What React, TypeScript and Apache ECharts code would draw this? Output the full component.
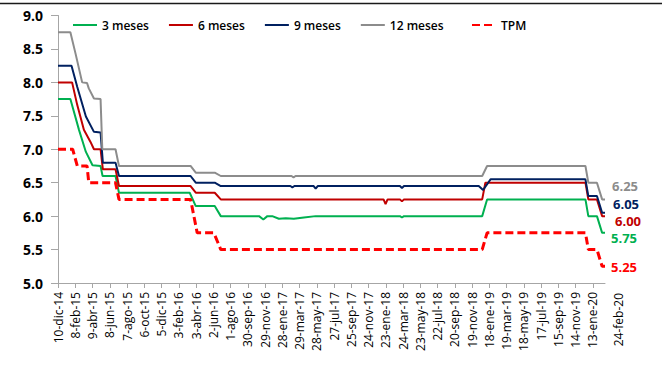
import React, { useEffect, useRef } from 'react';
import * as echarts from 'echarts';

// Axis range and tick dates (every 60 days from the first observation)
const START_DATE = '2014-12-10';
const END_DATE = '2020-02-24';
const TICK_DATES = [
  '2014-12-10', '2015-02-08', '2015-04-09', '2015-06-08', '2015-08-07', '2015-10-06',
  '2015-12-05', '2016-02-03', '2016-04-03', '2016-06-02', '2016-08-01', '2016-09-30',
  '2016-11-29', '2017-01-28', '2017-03-29', '2017-05-28', '2017-07-27', '2017-09-25',
  '2017-11-24', '2018-01-23', '2018-03-24', '2018-05-23', '2018-07-22', '2018-09-20',
  '2018-11-19', '2019-01-18', '2019-03-19', '2019-05-18', '2019-07-17', '2019-09-15',
  '2019-11-14', '2020-01-13',
];
const MONTHS = ['ene', 'feb', 'mar', 'abr', 'may', 'jun', 'jul', 'ago', 'sep', 'oct', 'nov', 'dic'];

const SERIES_NAMES = ['3 meses', '6 meses', '9 meses', '12 meses', 'TPM'];

// Rates (%) at the dates where each curve changes
const RATE_3M: [string, number][] = [
  ['2014-12-10', 7.75], ['2015-01-22', 7.75], ['2015-02-21', 7.29], ['2015-03-17', 6.96],
  ['2015-04-09', 6.76], ['2015-05-07', 6.75], ['2015-05-14', 6.6], ['2015-06-28', 6.6],
  ['2015-07-10', 6.35], ['2016-03-12', 6.35], ['2016-04-02', 6.15], ['2016-06-07', 6.15],
  ['2016-06-28', 6.0], ['2016-11-08', 6.0], ['2016-11-23', 5.95], ['2016-12-07', 6.0],
  ['2016-12-24', 6.0], ['2017-01-16', 5.96], ['2017-02-09', 5.97], ['2017-03-09', 5.96],
  ['2017-04-13', 5.98], ['2017-05-24', 6.0], ['2018-03-13', 6.0], ['2018-03-20', 5.98],
  ['2018-03-27', 6.0], ['2018-12-24', 6.0], ['2019-01-10', 6.25], ['2019-12-18', 6.25],
  ['2019-12-28', 6.0], ['2020-01-27', 6.0], ['2020-02-14', 5.75], ['2020-02-24', 5.75],
];
const RATE_6M: [string, number][] = [
  ['2014-12-10', 8.0], ['2015-01-28', 8.0], ['2015-02-15', 7.66], ['2015-03-10', 7.29],
  ['2015-04-02', 7.11], ['2015-04-14', 7.0], ['2015-05-07', 7.0], ['2015-05-15', 6.7],
  ['2015-06-28', 6.7], ['2015-07-10', 6.45], ['2016-03-15', 6.45], ['2016-04-02', 6.35],
  ['2016-06-07', 6.35], ['2016-06-28', 6.25], ['2018-01-15', 6.25], ['2018-01-22', 6.18],
  ['2018-01-29', 6.25], ['2018-03-13', 6.25], ['2018-03-20', 6.22], ['2018-03-27', 6.25],
  ['2018-12-24', 6.25], ['2019-01-04', 6.5], ['2019-12-18', 6.5], ['2019-12-28', 6.25],
  ['2020-01-27', 6.25], ['2020-02-14', 6.0], ['2020-02-24', 6.0],
];
const RATE_9M: [string, number][] = [
  ['2014-12-10', 8.25], ['2015-01-26', 8.25], ['2015-02-15', 7.93], ['2015-03-17', 7.49],
  ['2015-04-14', 7.26], ['2015-05-07', 7.25], ['2015-05-15', 6.8], ['2015-06-28', 6.8],
  ['2015-07-10', 6.6], ['2016-03-15', 6.6], ['2016-04-02', 6.5], ['2016-06-07', 6.5],
  ['2016-06-28', 6.45], ['2017-02-25', 6.45], ['2017-03-04', 6.43], ['2017-03-11', 6.45],
  ['2017-05-17', 6.45], ['2017-05-24', 6.41], ['2017-05-31', 6.45], ['2018-03-13', 6.45],
  ['2018-03-20', 6.42], ['2018-03-27', 6.45], ['2018-12-12', 6.45], ['2018-12-27', 6.39],
  ['2019-01-22', 6.55], ['2019-12-18', 6.55], ['2019-12-28', 6.3], ['2020-01-27', 6.3],
  ['2020-02-14', 6.05], ['2020-02-24', 6.05],
];
const RATE_12M: [string, number][] = [
  ['2014-12-10', 8.75], ['2015-01-22', 8.75], ['2015-02-09', 8.43], ['2015-03-04', 8.0],
  ['2015-03-21', 7.99], ['2015-03-27', 7.91], ['2015-04-14', 7.76], ['2015-05-07', 7.75],
  ['2015-05-13', 7.0], ['2015-06-28', 7.0], ['2015-07-10', 6.75], ['2016-03-15', 6.75],
  ['2016-04-02', 6.65], ['2016-06-07', 6.65], ['2016-06-28', 6.6], ['2017-03-01', 6.6],
  ['2017-03-08', 6.58], ['2017-03-15', 6.6], ['2018-12-24', 6.6], ['2019-01-10', 6.75],
  ['2019-12-18', 6.75], ['2019-12-28', 6.5], ['2020-01-27', 6.5], ['2020-02-14', 6.25],
  ['2020-02-24', 6.25],
];
const RATE_TPM: [string, number][] = [
  ['2014-12-10', 7.0], ['2015-01-30', 7.0], ['2015-02-15', 6.75], ['2015-03-21', 6.75],
  ['2015-03-27', 6.5], ['2015-06-28', 6.5], ['2015-07-10', 6.25], ['2016-03-15', 6.25],
  ['2016-04-07', 5.75], ['2016-06-04', 5.75], ['2016-06-28', 5.5], ['2018-12-24', 5.5],
  ['2019-01-10', 5.75], ['2019-12-18', 5.75], ['2019-12-28', 5.5], ['2020-01-27', 5.5],
  ['2020-02-14', 5.25], ['2020-02-24', 5.25],
];

const FONT = "'Open Sans', 'DejaVu Sans', sans-serif";
const DAY_MS = 86400000;

const utc = (iso: string) => {
  const [y, m, d] = iso.split('-').map(Number);
  return Date.UTC(y, m - 1, d);
};
const dayOf = (iso: string) => Math.round((utc(iso) - utc(START_DATE)) / DAY_MS);
const toPoints = (rows: [string, number][]) => rows.map(([d, v]) => [dayOf(d), v]);
const fmtDay = (day: number) => {
  const t = new Date(utc(START_DATE) + Math.round(day) * DAY_MS);
  return `${t.getUTCDate()}-${MONTHS[t.getUTCMonth()]}-${String(t.getUTCFullYear()).slice(2)}`;
};

export default function App() {
  const ref = useRef<HTMLDivElement>(null);

  useEffect(() => {
    if (!ref.current) return;
    const chart = echarts.init(ref.current, undefined, { renderer: 'svg' });
    const tickDays = TICK_DATES.map(dayOf);
    const endDay = dayOf(END_DATE);

    const line = (
      name: string,
      rows: [string, number][],
      color: string,
      width: number,
      labelOffset: [number, number],
      dashed = false,
    ) => ({
      name,
      type: 'line',
      data: toPoints(rows),
      symbol: 'none',
      showSymbol: false,
      color,
      lineStyle: { color, width, type: dashed ? [8, 4] : 'solid' },
      endLabel: {
        show: true,
        formatter: (p: any) => Number(p.value[1]).toFixed(2),
        color,
        fontFamily: FONT,
        fontSize: 13,
        lineHeight: 11,
        fontWeight: 'bold',
        distance: 5,
        offset: labelOffset,
      },
    });

    const legendBase = {
      top: 14,
      itemWidth: 24,
      itemHeight: 12,
      itemGap: 19,
      itemStyle: { opacity: 0 },
      textStyle: { fontFamily: FONT, fontSize: 12, fontWeight: 600, color: '#000' },
    };

    chart.setOption({
      animation: false,
      textStyle: { fontFamily: FONT },
      grid: { left: 58, right: 57, top: 15.5, bottom: 83 },
      legend: [
        { ...legendBase, data: SERIES_NAMES.slice(0, 4), left: 67 },
        { ...legendBase, data: SERIES_NAMES.slice(4), left: 466 },
      ],
      xAxis: {
        type: 'value',
        min: 0,
        max: endDay,
        axisLine: { lineStyle: { color: '#a6a6a6', width: 1 } },
        axisTick: { customValues: tickDays, length: 5, lineStyle: { color: '#a6a6a6' } },
        axisLabel: {
          customValues: tickDays,
          rotate: 90,
          margin: 9,
          fontSize: 12,
          color: '#000',
          fontFamily: FONT,
          formatter: (v: number) => fmtDay(v),
        },
        splitLine: { show: false },
      },
      yAxis: {
        type: 'value',
        min: 5,
        max: 9,
        interval: 0.5,
        axisLine: { show: true, lineStyle: { color: '#a6a6a6', width: 1 } },
        axisTick: { show: true, length: 7, lineStyle: { color: '#a6a6a6' } },
        axisLabel: {
          formatter: (v: number) => v.toFixed(1),
          fontSize: 14,
          fontWeight: 'bold',
          color: '#000',
          margin: 15,
          fontFamily: FONT,
        },
        splitLine: { show: false },
      },
      series: [
        line(SERIES_NAMES[0], RATE_3M, '#00b050', 2, [1, 5]),
        line(SERIES_NAMES[1], RATE_6M, '#c00000', 2, [5, 5]),
        line(SERIES_NAMES[2], RATE_9M, '#002060', 2, [3, -9]),
        line(SERIES_NAMES[3], RATE_12M, '#8c8c8c', 2, [2, -13]),
        line(SERIES_NAMES[4], RATE_TPM, '#ff0000', 3, [1, 1], true),
      ],
    });

    // Closing date written just past the end of the date axis
    const [ex, ey] = chart.convertToPixel({ gridIndex: 0 }, [endDay, 5]) as number[];
    chart.setOption({
      graphic: [
        {
          type: 'line',
          shape: { x1: 0, y1: 3.5, x2: 662, y2: 3.5 },
          style: { stroke: '#1a1a1a', lineWidth: 1.5 },
        },
        {
          type: 'text',
          x: ex + 13,
          y: ey + 10,
          rotation: Math.PI / 2,
          style: {
            text: fmtDay(endDay),
            fontFamily: FONT,
            fontSize: 12,
            fill: '#000',
            align: 'right',
            verticalAlign: 'middle',
          },
        },
      ],
    });

    return () => chart.dispose();
  }, []);

  return (
    <div
      ref={ref}
      style={{ position: 'fixed', left: 0, top: 0, width: 662, height: 366, background: '#fff' }}
    />
  );
}
